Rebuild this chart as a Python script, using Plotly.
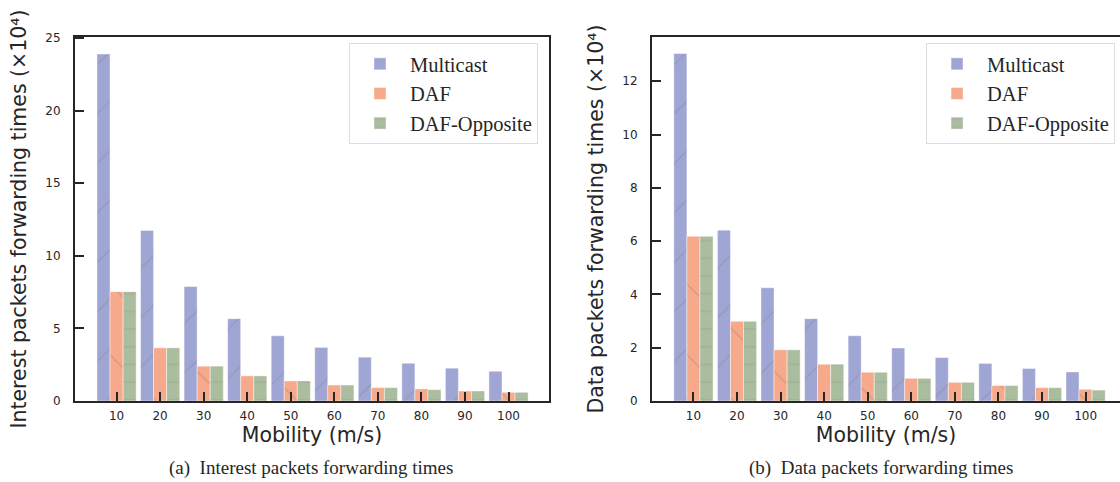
import plotly.graph_objects as go

mobility = [10, 20, 30, 40, 50, 60, 70, 80, 90, 100]
series_names = ["Multicast", "DAF", "DAF-Opposite"]

interest_multicast = [23.9, 11.75, 7.88, 5.67, 4.49, 3.69, 3.02, 2.6, 2.26, 2.05]
interest_daf = [7.53, 3.66, 2.4, 1.73, 1.38, 1.1, 0.92, 0.83, 0.69, 0.6]
interest_opposite = [7.53, 3.66, 2.4, 1.73, 1.38, 1.1, 0.92, 0.78, 0.69, 0.6]

data_multicast = [13.04, 6.41, 4.25, 3.09, 2.45, 1.99, 1.63, 1.41, 1.22, 1.09]
data_daf = [6.18, 2.99, 1.92, 1.38, 1.08, 0.85, 0.70, 0.58, 0.5, 0.44]
data_opposite = [6.18, 2.99, 1.92, 1.38, 1.08, 0.85, 0.70, 0.58, 0.5, 0.41]

left_yticks = [0, 5, 10, 15, 20, 25]
right_yticks = [0, 2, 4, 6, 8, 10, 12]

colors = ["#a0a6d3", "#f7a98b", "#aabd9f"]
shapes_ = ["/", "\\", "-"]
psizes = [35, 50, 17.7]
psol = [0.035, 0.025, 0.05]

INK = "#262626"
SANS = "DejaVu Sans"
SERIF = "Liberation Serif"

fig = go.Figure()

left_vals = [interest_multicast, interest_daf, interest_opposite]
right_vals = [data_multicast, data_daf, data_opposite]

for i, name in enumerate(series_names):
    marker = dict(
        color=colors[i],
        line=dict(color="rgba(255,255,255,0.55)", width=0.8),
        pattern=dict(shape=shapes_[i], size=psizes[i], solidity=psol[i],
                     fgcolor="rgba(100,100,100,0.5)", fillmode="overlay"),
    )
    fig.add_trace(go.Bar(x=mobility, y=left_vals[i], name=name, marker=marker,
                         xaxis="x", yaxis="y", legend="legend",
                         legendgroup="L" + name))
    fig.add_trace(go.Bar(x=mobility, y=right_vals[i], name=name, marker=marker,
                         xaxis="x2", yaxis="y2", legend="legend2",
                         legendgroup="R" + name))

axis_common = dict(
    showline=True, linecolor=INK, linewidth=2,
    ticks="inside", ticklen=9, tickwidth=2, tickcolor=INK,
    showgrid=False, zeroline=False,
    tickfont=dict(family=SANS, size=12, color=INK),
)

legend_common = dict(
    xanchor="left", yanchor="top",
    bgcolor="white", bordercolor="#dddddd", borderwidth=1,
    font=dict(family=SERIF, size=20.5, color=INK),
    itemwidth=50, tracegroupgap=0, traceorder="grouped",
)

fig.update_layout(
    width=1120, height=482,
    margin=dict(l=75, r=0, t=37, b=81),
    paper_bgcolor="white", plot_bgcolor="white",
    barmode="group", bargap=0.1, bargroupgap=0,
    xaxis=dict(axis_common, domain=[0, 0.4536], range=[0.45, 109.3],
               tickvals=mobility, mirror=True, anchor="y",
               ticklabelstandoff=3,
               title=dict(text="Mobility (m/s)", standoff=3,
                          font=dict(family=SANS, size=20.5, color=INK))),
    yaxis=dict(axis_common, range=[0, 25.07], tickvals=left_yticks,
               mirror=True, anchor="x", ticklabelstandoff=10,
               title=dict(text="Interest packets forwarding times (×10⁴)", standoff=13,
                          font=dict(family=SANS, size=20.5, color=INK))),
    xaxis2=dict(axis_common, domain=[0.5522, 1.0], range=[0.5, 107.9],
                tickvals=mobility, mirror=True, anchor="y2",
                ticklabelstandoff=3,
                title=dict(text="Mobility (m/s)", standoff=3,
                           font=dict(family=SANS, size=20.5, color=INK))),
    yaxis2=dict(axis_common, range=[0, 13.66], tickvals=right_yticks,
                mirror=False, anchor="x2", ticklabelstandoff=10,
                title=dict(text="Data packets forwarding times (×10⁴)", standoff=13,
                           font=dict(family=SANS, size=20.5, color=INK))),
    legend=dict(legend_common, x=0.2622, y=(401 - 43) / 364),
    legend2=dict(legend_common, x=0.8144, y=(401 - 43) / 364),
    annotations=[
        dict(text="(a)  Interest packets forwarding times", xref="paper", yref="paper",
             x=(311 - 75) / 1045, y=(401 - 468) / 364, xanchor="center", yanchor="middle",
             showarrow=False, font=dict(family=SERIF, size=19, color=INK)),
        dict(text="(b)  Data packets forwarding times", xref="paper", yref="paper",
             x=(881 - 75) / 1045, y=(401 - 468) / 364, xanchor="center", yanchor="middle",
             showarrow=False, font=dict(family=SERIF, size=19, color=INK)),
    ],
)

fig.write_html("out.html")
